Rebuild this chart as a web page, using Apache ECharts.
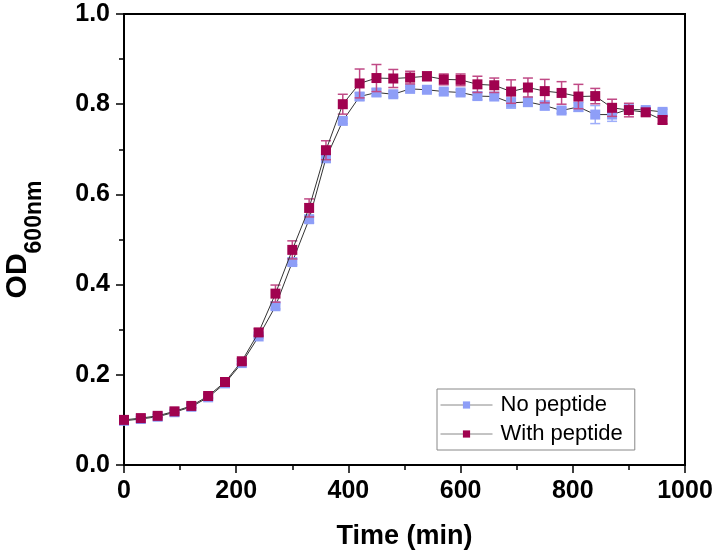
<!DOCTYPE html>
<html>
<head>
<meta charset="utf-8">
<script src="https://cdn.jsdelivr.net/npm/echarts@6/dist/echarts.min.js"></script>
<style>html,body{margin:0;padding:0;background:#fff;}#c{width:717px;height:557px;}</style>
</head>
<body>
<div id="c"></div>
<script>
const times = [0,30,60,90,120,150,180,210,240,270,300,330,360,390,420,450,480,510,540,570,600,630,660,690,720,750,780,810,840,870,900,930,960];
const noPeptide = [0.098,0.102,0.107,0.117,0.129,0.150,0.181,0.226,0.285,0.352,0.450,0.545,0.680,0.763,0.817,0.826,0.822,0.834,0.832,0.828,0.826,0.818,0.817,0.803,0.805,0.797,0.786,0.794,0.777,0.777,0.789,0.787,0.783];
const noPeptideErr = [0.003,0.003,0.003,0.003,0.003,0.003,0.003,0.004,0.004,0.006,0.006,0.008,0.008,0.006,0.008,0.008,0.006,0.005,0.005,0.006,0.006,0.008,0.006,0.012,0.010,0.010,0.006,0.010,0.020,0.015,0.006,0.006,0.006];
const withPeptide = [0.100,0.104,0.109,0.119,0.131,0.153,0.184,0.230,0.294,0.380,0.477,0.570,0.698,0.800,0.846,0.858,0.857,0.859,0.862,0.855,0.854,0.844,0.842,0.828,0.837,0.829,0.825,0.817,0.818,0.792,0.787,0.782,0.765];
const withPeptideErr = [0.003,0.003,0.003,0.003,0.004,0.004,0.005,0.006,0.008,0.019,0.020,0.020,0.021,0.022,0.032,0.030,0.020,0.014,0.010,0.012,0.013,0.018,0.016,0.026,0.021,0.026,0.025,0.027,0.017,0.019,0.015,0.008,0.008];
const xTicks = [0,200,400,600,800,1000];
const yTicks = [0.0,0.2,0.4,0.6,0.8,1.0];
const seriesNames = ['No peptide','With peptide'];

const lightColor = '#8E9EF7';
const darkColor = '#A0024F';

function pairs(xs, ys){ return xs.map((x,i)=>[x, ys[i]]); }
function errData(xs, ys, es){ return xs.map((x,i)=>[x, ys[i]-es[i], ys[i]+es[i]]); }

function errRender(color){
  return function(params, api){
    const x = api.value(0);
    const lo = api.coord([x, api.value(1)]);
    const hi = api.coord([x, api.value(2)]);
    const hw = 5;
    const style = {stroke: color, lineWidth: 1.5, fill: null};
    return {type:'group', children:[
      {type:'line', shape:{x1:lo[0], y1:lo[1], x2:hi[0], y2:hi[1]}, style: style},
      {type:'line', shape:{x1:hi[0]-hw, y1:hi[1], x2:hi[0]+hw, y2:hi[1]}, style: style},
      {type:'line', shape:{x1:lo[0]-hw, y1:lo[1], x2:lo[0]+hw, y2:lo[1]}, style: style}
    ]};
  };
}

const chart = echarts.init(document.getElementById('c'), null, {renderer:'canvas'});
const labelFont = 'Liberation Sans, Arial, sans-serif';
chart.setOption({
  backgroundColor: '#fff',
  animation: false,
  grid: {left:124, right:32, top:14, bottom:92, containLabel:false, outerBoundsMode:'none',
    show:true, borderColor:'#000', borderWidth:2, backgroundColor:'transparent'},
  xAxis: {
    type:'value', min: xTicks[0], max: xTicks[xTicks.length-1], interval: 200,
    name: 'Time (min)', nameLocation:'middle', nameGap: 58,
    nameTextStyle: {fontFamily: labelFont, fontWeight:'bold', fontSize:27, color:'#000'},
    axisLine: {show:true, onZero:false, lineStyle:{color:'#000', width:2}},
    axisTick: {show:true, inside:false, length:8, lineStyle:{color:'#000', width:1.5}},
    minorTick: {show:true, splitNumber:2, length:5, lineStyle:{color:'#000', width:1.5}},
    splitLine: {show:false},
    axisLabel: {fontFamily: labelFont, fontWeight:'bold', fontSize:25, color:'#000', margin:14,
      formatter: v => String(v)}
  },
  yAxis: {
    type:'value', min: yTicks[0], max: yTicks[yTicks.length-1], interval: 0.2,
    name: '{a|OD}{b|600nm}', nameLocation:'middle', nameGap: 78,
    nameTextStyle: {
      rich: {
        a: {fontFamily: labelFont, fontWeight:'bold', fontSize:30, color:'#000', verticalAlign:'bottom', padding:[0,0,13,0]},
        b: {fontFamily: labelFont, fontWeight:'bold', fontSize:23, color:'#000', verticalAlign:'bottom'}
      }
    },
    axisLine: {show:true, onZero:false, lineStyle:{color:'#000', width:2}},
    axisTick: {show:true, inside:false, length:8, lineStyle:{color:'#000', width:1.5}},
    minorTick: {show:true, splitNumber:2, length:5, lineStyle:{color:'#000', width:1.5}},
    splitLine: {show:false},
    axisLabel: {fontFamily: labelFont, fontWeight:'bold', fontSize:25, color:'#000', margin:14,
      formatter: v => v.toFixed(1)}
  },
  legend: {
    orient:'vertical', left:437, top:389,
    data: seriesNames,
    backgroundColor:'#fff', borderColor:'#888', borderWidth:1,
    padding:[5,12,5,3], itemGap:7, itemWidth:52, itemHeight:9,
    lineStyle: {color:'#888', width:1},
    textStyle: {fontFamily: labelFont, fontSize:22, color:'#000', padding:[0,0,0,3]}
  },
  series: [
    {
      name: seriesNames[0] + ' err', type:'custom', renderItem: errRender('#9EAEFA'),
      data: errData(times, noPeptide, noPeptideErr), z: 2, silent:true
    },
    {
      name: seriesNames[0], type:'line', data: pairs(times, noPeptide),
      symbol:'rect', symbolSize:10, showSymbol:true,
      itemStyle:{color: lightColor, borderWidth:0},
      lineStyle:{color:'#333', width:1}, z: 3
    },
    {
      name: seriesNames[1] + ' err', type:'custom', renderItem: errRender('#C04A86'),
      data: errData(times, withPeptide, withPeptideErr), z: 4, silent:true
    },
    {
      name: seriesNames[1], type:'line', data: pairs(times, withPeptide),
      symbol:'rect', symbolSize:10, showSymbol:true,
      itemStyle:{color: darkColor, borderWidth:0},
      lineStyle:{color:'#333', width:1}, z: 5
    }
  ]
});
</script>
</body>
</html>
